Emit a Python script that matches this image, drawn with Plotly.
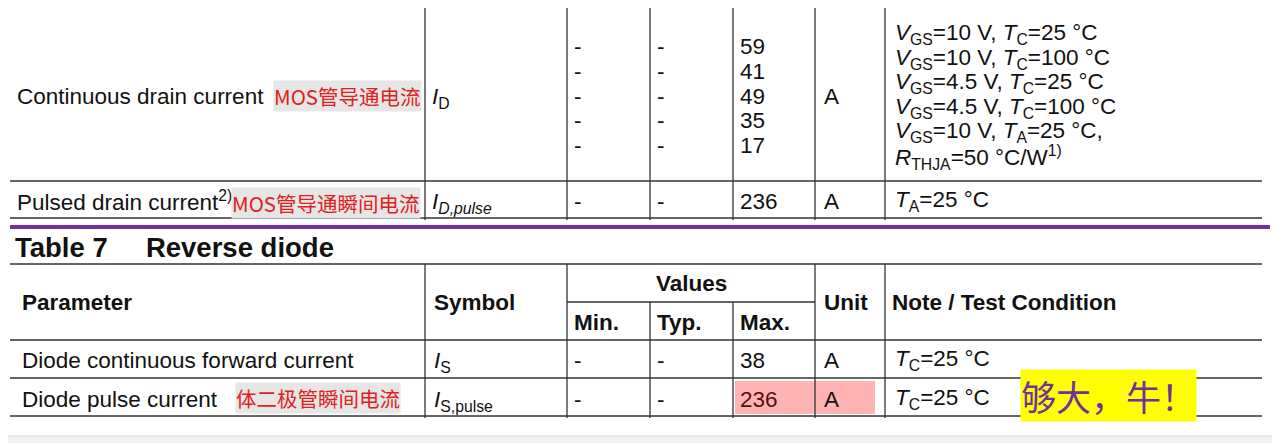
import plotly.graph_objects as go

# ---- data ----
top_param = "Continuous drain current"
top_param_cn = "MOS管导通电流"
top_symbol = "<i>I</i><sub>D</sub>"
top_max = ["59", "41", "49", "35", "17"]
top_unit = "A"
top_notes = ["<i>V</i><sub>GS</sub>=10 V, <i>T</i><sub>C</sub>=25 °C",
             "<i>V</i><sub>GS</sub>=10 V, <i>T</i><sub>C</sub>=100 °C",
             "<i>V</i><sub>GS</sub>=4.5 V, <i>T</i><sub>C</sub>=25 °C",
             "<i>V</i><sub>GS</sub>=4.5 V, <i>T</i><sub>C</sub>=100 °C",
             "<i>V</i><sub>GS</sub>=10 V, <i>T</i><sub>A</sub>=25 °C,",
             "<i>R</i><sub>THJA</sub>=50 °C/W<sup>1)</sup>"]
pulse_param = "Pulsed drain current<sup>2)</sup>"
pulse_cn = "MOS管导通瞬间电流"
pulse_symbol = "<i>I<sub>D,pulse</sub></i>"
pulse_max = "236"
pulse_note = "<i>T</i><sub>A</sub>=25 °C"

table_title = "Table 7     Reverse diode"
headers = ["Parameter", "Symbol", "Values", "Unit", "Note / Test Condition"]
subheaders = ["Min.", "Typ.", "Max."]
rd_params = ["Diode continuous forward current", "Diode pulse current"]
rd_cn = "体二极管瞬间电流"
rd_symbols = ["<i>I</i><sub>S</sub>", "<i>I</i><sub>S,pulse</sub>"]
rd_max = ["38", "236"]
rd_unit = ["A", "A"]
rd_notes = ["<i>T</i><sub>C</sub>=25 °C", "<i>T</i><sub>C</sub>=25 °C"]
comment = "够大，牛！"

FONT = "Liberation Sans, Arial, sans-serif"
CJK = "Noto Sans CJK SC"
FS = 22.5
fig = go.Figure()
shapes = []
ann = []

def line(x0, y0, x1, y1, c="#333", w=1.3):
    shapes.append(dict(type="line", x0=x0, y0=y0, x1=x1, y1=y1, line=dict(color=c, width=w)))

def rect(x0, y0, x1, y1, fill, lc="rgba(0,0,0,0)"):
    shapes.append(dict(type="rect", x0=x0, y0=y0, x1=x1, y1=y1, fillcolor=fill,
                       line=dict(color=lc, width=1), layer="below"))

def text(x, y, t, size=FS, color="#111", font=FONT, anchor="left", bg=None):
    d = dict(x=x, y=y, text=t, showarrow=False, xanchor=anchor, yanchor="middle",
             font=dict(family=font, size=size, color=color))
    if bg:
        d["bgcolor"] = bg
        d["borderpad"] = 0
    ann.append(d)

# frame
rect(3, -5, 1275, 436, "white", "#d8d8d8")

L, R = 10, 1262
cols = [425, 567, 650, 733, 815, 885]
for x in cols:
    line(x, 0, x, 220)
line(L, 181, R, 181)
line(L, 218, R, 218)
shapes.append(dict(type="line", x0=L, y0=227, x1=1270, y1=227, line=dict(color="#7030a0", width=4)))

line(L, 264, R, 264)
for x in [425, 567, 815, 885]:
    line(x, 264, x, 418)
for x in [650, 733]:
    line(x, 302, x, 418)
line(567, 302, 815, 302)
for y in [340, 378, 416]:
    line(L, y, R, y)

rect(735, 381, 875, 414, "#ffb3b3")

# top table texts
text(15, 96, top_param)
text(273, 96, top_param_cn, size=20.5, color="#e02020", font=CJK, bg="#e6e6e6")
text(430, 98, top_symbol)
rows_y = [46, 71, 96, 120, 145]
for i, v in enumerate(top_max):
    text(572, rows_y[i], "-")
    text(655, rows_y[i], "-")
    text(738, rows_y[i], v)
text(822, 96, top_unit)
for i, n in enumerate(top_notes):
    text(893, 34 + i * 24.6, n)

text(15, 201, pulse_param)
text(231, 203, pulse_cn, size=20.5, color="#e02020", font=CJK, bg="#e6e6e6")
text(430, 203, pulse_symbol)
text(572, 201, "-")
text(655, 201, "-")
text(738, 201, pulse_max)
text(822, 201, "A")
text(893, 201, pulse_note)

text(13, 247, "<b>Table 7&nbsp;&nbsp;&nbsp;&nbsp;&nbsp;Reverse diode</b>", size=27.5)
text(20, 302, "<b>%s</b>" % headers[0])
text(432, 302, "<b>%s</b>" % headers[1])
text(691, 283, "<b>%s</b>" % headers[2], anchor="center")
text(822, 302, "<b>%s</b>" % headers[3])
text(890, 302, "<b>%s</b>" % headers[4])
for x, s in zip([572, 655, 738], subheaders):
    text(x, 322, "<b>%s</b>" % s)

ys = [360, 399]
for i in range(2):
    text(20, ys[i], rd_params[i])
    text(432, ys[i] + 2, rd_symbols[i])
    text(572, ys[i], "-")
    text(655, ys[i], "-")
    text(738, ys[i], rd_max[i], color="#5a0f0f" if i == 1 else "#111")
    text(822, ys[i], rd_unit[i])
    text(893, ys[i], rd_notes[i])
text(235, 398, rd_cn, size=20.5, color="#e02020", font=CJK, bg="#e6e6e6")
text(1020, 395, comment, size=35, color="#7030a0", font=CJK, bg="#ffff00")

# page body has an 8px margin; offset the axes so marks land at picture coordinates
OFF = 8
fig.update_layout(width=1280, height=443, margin=dict(l=0, r=0, t=0, b=0),
                  plot_bgcolor="#f2f2f2", paper_bgcolor="#f2f2f2",
                  xaxis=dict(range=[OFF, 1280 + OFF], visible=False, fixedrange=True),
                  yaxis=dict(range=[443 + OFF, OFF], visible=False, fixedrange=True),
                  shapes=shapes, annotations=ann, showlegend=False)
fig.write_html("out.html", config={"displayModeBar": False})
